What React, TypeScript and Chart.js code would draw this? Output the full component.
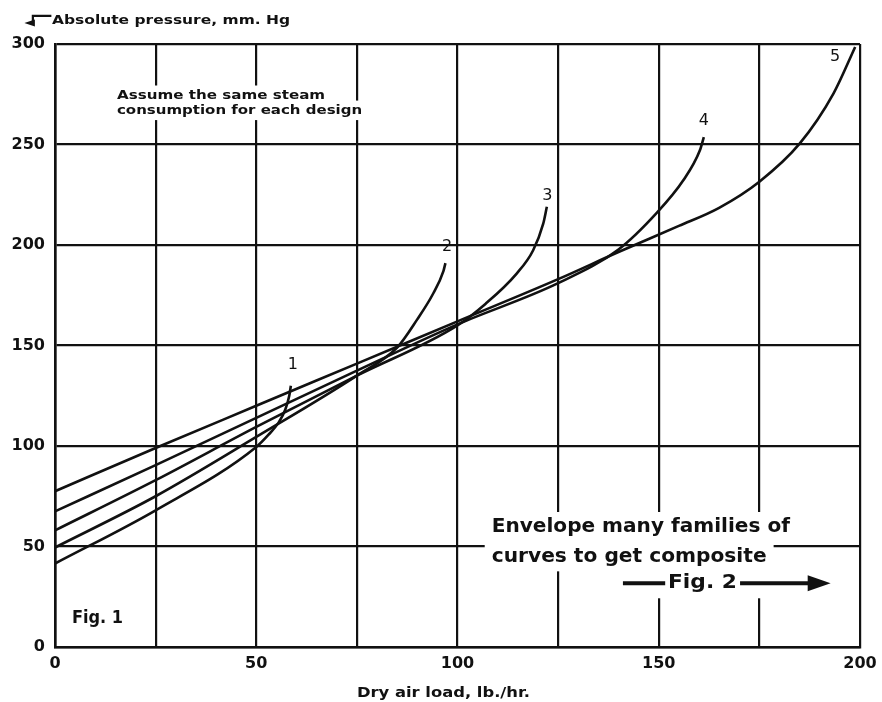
import React, { useEffect, useRef } from "react";
import { Chart, registerables } from "chart.js";

Chart.register(...registerables);

// ---- Axis ticks ----
const xTickValues = [0, 25, 50, 75, 100, 125, 150, 175, 200];
const xTickLabels = ["0", "", "50", "", "100", "", "150", "", "200"];
const yTickValues = [0, 50, 100, 150, 200, 250, 300];

// ---- Curves (dry air load lb/hr  vs  absolute pressure mm Hg) ----
const curveNames = ["1", "2", "3", "4", "5"];

const curve1X = [0, 25, 50, 53, 55.5, 57.2, 58.2, 58.6];
const curve1Y = [41.5, 68, 99.5, 105.5, 111.5, 118, 125, 130];

const curve2X = [0, 25, 50, 75, 85, 90, 94, 96.5, 97];
const curve2Y = [49.5, 75, 104.5, 135, 149, 163, 176, 187, 191];

const curve3X = [0, 25, 50, 75, 100, 107, 114.7, 118.8, 121.3, 122.2];
const curve3Y = [58, 83, 109.5, 135, 160, 170.8, 185.8, 197.4, 210.6, 219];

const curve4X = [0, 25, 50, 75, 100, 125, 140, 149.5, 156.1, 160.2, 161.2];
const curve4Y = [67.5, 90.5, 114, 137.5, 160.5, 181, 197.8, 216, 232.2, 247, 253.7];

const curve5X = [0, 25, 50, 75, 100, 125, 140, 155, 165, 175, 185, 193.4, 198.8];
const curve5Y = [77.5, 99, 120, 141, 162, 183, 196.5, 209.5, 218.5, 231.5, 250.4, 275.3, 298.5];

const curvesX = [curve1X, curve2X, curve3X, curve4X, curve5X];
const curvesY = [curve1Y, curve2Y, curve3Y, curve4Y, curve5Y];

// ---- Texts ----
const yAxisTitle = "Absolute pressure, mm. Hg";
const xAxisTitle = "Dry air load, lb./hr.";
const noteLines = ["Assume the same steam", "consumption for each design"];
const envelopeLines = ["Envelope many families of", "curves to get composite"];
const fig2Text = "Fig. 2";
const fig1Text = "Fig. 1";

const INK = "#111111";
const FONT = "'DejaVu Sans', sans-serif";

// label anchor positions (data units)
const curveLabelPos = [
  [59.1, 140.5],
  [97.4, 199],
  [122.3, 224.7],
  [161.2, 262],
  [193.8, 293.4],
];

const annotationPlugin = {
  id: "annotations",
  beforeDatasetsDraw(chart: any) {
    const ctx: CanvasRenderingContext2D = chart.ctx;
    const xs = chart.scales.x;
    const ys = chart.scales.y;
    const px = (v: number) => xs.getPixelForValue(v);
    const py = (v: number) => ys.getPixelForValue(v);

    type T = { text: string; x0: number; x1: number; cy: number; size: number; box: boolean; weight: string };
    const items: T[] = [
      { text: noteLines[0], x0: 15.4, x1: 67.1, cy: 274.5, size: 13, box: true, weight: "bold" },
      { text: noteLines[1], x0: 15.4, x1: 76.3, cy: 267, size: 13, box: true, weight: "bold" },
      { text: envelopeLines[0], x0: 108.5, x1: 182.6, cy: 59.7, size: 20, box: true, weight: "bold" },
      { text: envelopeLines[1], x0: 108.5, x1: 176.8, cy: 45.1, size: 20, box: true, weight: "bold" },
      { text: fig2Text, x0: 152.3, x1: 169.4, cy: 31.7, size: 19, box: true, weight: "bold" },
      { text: fig1Text, x0: 4.2, x1: 16.9, cy: 14.3, size: 17, box: false, weight: "bold" },
      { text: yAxisTitle, x0: -0.75, x1: 58.4, cy: 311.5, size: 13, box: false, weight: "bold" },
      { text: xAxisTitle, x0: 75, x1: 118, cy: -23, size: 14, box: false, weight: "bold" },
    ];

    ctx.save();
    // white boxes first
    ctx.fillStyle = "#ffffff";
    for (const it of items) {
      if (!it.box) continue;
      const l = px(it.x0);
      const r = px(it.x1);
      const c = py(it.cy);
      ctx.fillRect(l - 7, c - it.size * 0.75, r - l + 14, it.size * 1.5);
    }
    // Fig. 2 row box (arrow included)
    {
      const c = py(31.7);
      ctx.fillRect(px(140), c - 15, px(193.5) - px(140), 30);
    }

    // texts, fitted to the measured widths
    ctx.fillStyle = INK;
    ctx.textBaseline = "middle";
    ctx.textAlign = "left";
    for (const it of items) {
      ctx.font = `${it.weight} ${it.size}px ${FONT}`;
      const l = px(it.x0);
      const r = px(it.x1);
      const c = py(it.cy);
      const w = ctx.measureText(it.text).width;
      const sx = (r - l) / w;
      ctx.save();
      ctx.translate(l, c);
      ctx.scale(sx, 1);
      ctx.fillText(it.text, 0, 0);
      ctx.restore();
    }

    // Fig. 2 arrows
    ctx.strokeStyle = INK;
    ctx.lineWidth = 4;
    const ay = py(31.7);
    ctx.beginPath();
    ctx.moveTo(px(141.1), ay);
    ctx.lineTo(px(151.6), ay);
    ctx.moveTo(px(170.2), ay);
    ctx.lineTo(px(188.5), ay);
    ctx.stroke();
    ctx.beginPath();
    ctx.moveTo(px(192.7), ay);
    ctx.lineTo(px(187), ay - 8);
    ctx.lineTo(px(187), ay + 8);
    ctx.closePath();
    ctx.fill();

    // bent arrow by the y-axis title
    const ty = py(311.5) - 5;
    ctx.lineWidth = 2.2;
    ctx.beginPath();
    ctx.moveTo(px(-0.9), ty);
    ctx.lineTo(px(-5.5), ty);
    ctx.lineTo(px(-5.5), ty + 8);
    ctx.stroke();
    ctx.beginPath();
    ctx.moveTo(px(-7.6), ty + 7);
    ctx.lineTo(px(-5.0), ty + 3.5);
    ctx.lineTo(px(-5.0), ty + 10.5);
    ctx.closePath();
    ctx.fill();

    // curve numbers
    ctx.font = `16px ${FONT}`;
    ctx.textAlign = "center";
    curveLabelPos.forEach((p, i) => {
      ctx.fillText(curveNames[i], px(p[0]), py(p[1]));
    });
    ctx.restore();
  },
};

export default function App() {
  const canvasRef = useRef<HTMLCanvasElement | null>(null);

  useEffect(() => {
    document.body.style.margin = "0";
    const canvas = canvasRef.current;
    if (!canvas) return;

    const datasets = curvesX.map((xsArr, i) => ({
      label: curveNames[i],
      data: xsArr.map((xv, j) => ({ x: xv, y: curvesY[i][j] })),
      borderColor: INK,
      borderWidth: 2.6,
      pointRadius: 0,
      fill: false,
      cubicInterpolationMode: "monotone" as const,
    }));

    const chart = new Chart(canvas, {
      type: "line",
      data: { datasets },
      plugins: [annotationPlugin],
      options: {
        responsive: false,
        animation: false,
        devicePixelRatio: 1,
        layout: { padding: { top: 44, right: 22, bottom: 0, left: 0 } },
        plugins: { legend: { display: false }, tooltip: { enabled: false } },
        scales: {
          x: {
            type: "linear",
            min: 0,
            max: 200,
            afterBuildTicks: (s: any) => {
              s.ticks = xTickValues.map((v) => ({ value: v }));
            },
            afterFit: (s: any) => {
              s.height = 55;
              s.paddingRight = 0;
              s.paddingLeft = 0;
            },
            ticks: {
              autoSkip: false,
              maxRotation: 0,
              padding: 7,
              color: INK,
              font: { family: FONT, size: 16, weight: "bold" },
              callback: (_v: any, i: number) => xTickLabels[i],
            },
            grid: { color: INK, lineWidth: 2.2, drawTicks: false },
            border: { color: INK, width: 2.6 },
          },
          y: {
            type: "linear",
            min: 0,
            max: 300,
            afterBuildTicks: (s: any) => {
              s.ticks = yTickValues.map((v) => ({ value: v }));
            },
            afterFit: (s: any) => {
              s.width = 55;
            },
            ticks: {
              padding: 10,
              color: INK,
              font: { family: FONT, size: 16, weight: "bold" },
            },
            grid: { color: INK, lineWidth: 2.2, drawTicks: false },
            border: { color: INK, width: 2.6 },
          },
        },
      },
    });
    return () => chart.destroy();
  }, []);

  return (
    <div style={{ width: 882, height: 702, background: "#fff" }}>
      <canvas ref={canvasRef} width={882} height={702} style={{ display: "block" }} />
    </div>
  );
}
